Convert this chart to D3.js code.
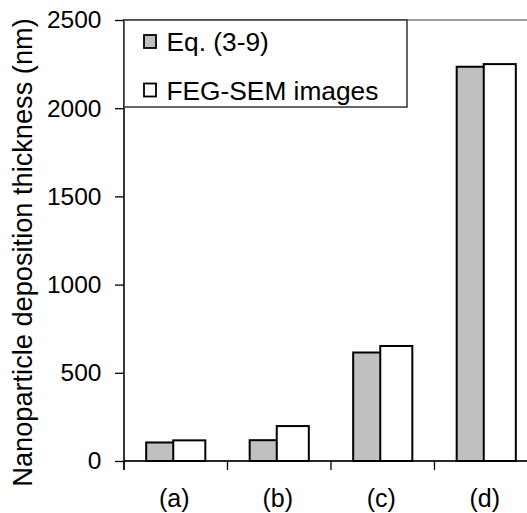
<!DOCTYPE html>
<html>
<head>
<meta charset="utf-8">
<script src="https://cdn.jsdelivr.net/npm/d3@7/dist/d3.min.js"></script>
<style>
  html, body { margin: 0; padding: 0; background: #fff; }
  svg { display: block; font-family: "Liberation Sans", Arial, sans-serif; }
</style>
</head>
<body>
<div id="chart"></div>
<script>
/* deposition thickness — model vs. FEG-SEM, grouped bars */

const categories = ['(a)', '(b)', '(c)', '(d)'];
const seriesNames = ['Eq. (3-9)', 'FEG-SEM images'];
const eqValues = [105, 118, 615, 2235];
const semValues = [117, 198, 652, 2250];
const yTicks = [0, 500, 1000, 1500, 2000, 2500];

const W = 527, H = 513;
const M = { top: 20, left: 124, bottom: 461, right: 538 };
const FILLS = ['#c0c0c0', '#ffffff'];

const rows = categories.map((c, i) => ({ cat: c, vals: [eqValues[i], semValues[i]] }));

const svg = d3.select('#chart').append('svg')
  .attr('width', W).attr('height', H);

const x = d3.scaleBand().domain(categories).range([M.left, M.right]);
const y = d3.scaleLinear().domain([0, 2500]).range([M.bottom, M.top]);

/* Excel-style: gap width 150% -> bar = band / 3.5 */
const barW = x.bandwidth() / 3.5;
const x1 = d3.scaleBand().domain(seriesNames)
  .range([x.bandwidth() / 2 - barW, x.bandwidth() / 2 + barW]);
const overlap = 2.5; /* second series sits a hair over the first */

/* plot area border (grey) */
svg.append('rect')
  .attr('x', M.left).attr('y', M.top)
  .attr('width', M.right - M.left).attr('height', M.bottom - M.top)
  .attr('fill', 'none').attr('stroke', '#808080').attr('stroke-width', 1.5);

/* bars */
const groups = svg.append('g').selectAll('g').data(rows).join('g')
  .attr('transform', (d) => `translate(${x(d.cat)},0)`);

groups.selectAll('rect').data((d) => d.vals.map((v, k) => ({ v, k })))
  .join('rect')
  .attr('x', (d) => x1(seriesNames[d.k]) - (d.k === 1 ? overlap : 0))
  .attr('width', (d) => x1.bandwidth() + (d.k === 1 ? overlap : 0))
  .attr('y', (d) => y(d.v))
  .attr('height', (d) => y(0) - y(d.v))
  .attr('fill', (d) => FILLS[d.k])
  .attr('stroke', '#000').attr('stroke-width', 2);

/* y axis */
const yAxis = svg.append('g')
  .attr('transform', `translate(${M.left},0)`)
  .call(d3.axisLeft(y).tickValues(yTicks).tickFormat(d3.format('d'))
    .tickSize(9).tickPadding(13.5).tickSizeOuter(0));
yAxis.select('.domain').remove();
yAxis.selectAll('.tick line').attr('stroke', '#000').attr('stroke-width', 1.3);
yAxis.selectAll('.tick text')
  .attr('font-size', 24.5).attr('fill', '#000')
  .attr('font-family', '"Liberation Sans", Arial, sans-serif');
svg.append('line')
  .attr('x1', M.left).attr('x2', M.left)
  .attr('y1', M.top).attr('y2', M.bottom + 9)
  .attr('stroke', '#000').attr('stroke-width', 1.3);

/* x axis: ticks between categories */
svg.append('line')
  .attr('x1', M.left).attr('x2', M.right)
  .attr('y1', M.bottom).attr('y2', M.bottom)
  .attr('stroke', '#000').attr('stroke-width', 1.3);
const bounds = categories.map((c) => x(c)).concat([M.right]);
svg.append('g').selectAll('line').data(bounds).join('line')
  .attr('x1', (d) => d).attr('x2', (d) => d)
  .attr('y1', M.bottom).attr('y2', M.bottom + 9)
  .attr('stroke', '#000').attr('stroke-width', 1.3);
svg.append('g').selectAll('text').data(categories).join('text')
  .attr('x', (d) => x(d) + x.bandwidth() / 2 - 1.5)
  .attr('y', 506.5)
  .attr('text-anchor', 'middle')
  .attr('font-size', 25)
  .text((d) => d);

/* y title */
svg.append('text')
  .attr('transform', 'translate(32,252.5) rotate(-90)')
  .attr('text-anchor', 'middle')
  .attr('font-size', 27.2)
  .text('Nanoparticle deposition thickness (nm)');

/* legend */
const lg = svg.append('g');
lg.append('rect')
  .attr('x', M.left).attr('y', M.top).attr('width', 283).attr('height', 87)
  .attr('fill', '#fff').attr('stroke', '#333').attr('stroke-width', 1.5);
const items = lg.selectAll('g').data(seriesNames).join('g')
  .attr('transform', (d, i) => `translate(${M.left + 20},${M.top + 15 + i * 48.5})`);
items.append('rect')
  .attr('x', 0).attr('y', 0).attr('width', 12).attr('height', 13)
  .attr('fill', (d, i) => FILLS[i]).attr('stroke', '#000').attr('stroke-width', 1.8);
items.append('text')
  .attr('x', 22.5).attr('y', 16)
  .attr('font-size', 26.3)
  .text((d) => d);
</script>
</body>
</html>
